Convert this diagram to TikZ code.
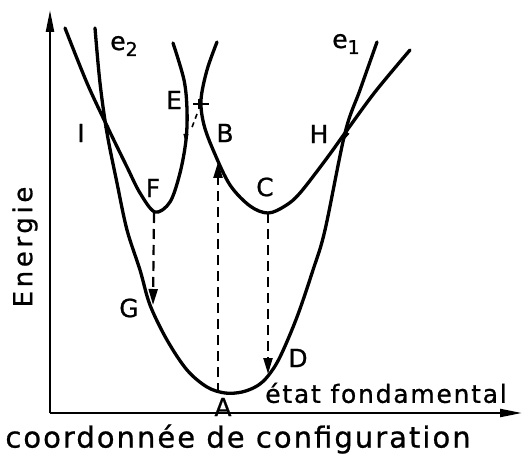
\documentclass[tikz,border=0pt]{standalone}
\usepackage{fontspec}
\setmainfont[FakeBold=0.8]{DejaVu Sans}
\newfontfamily\spaced[LetterSpace=7,FakeBold=0.8]{DejaVu Sans}
\newfontfamily\wide[LetterSpace=14,FakeBold=0.8]{DejaVu Sans}
\usetikzlibrary{arrows.meta}
\begin{document}
\begin{tikzpicture}[x=1pt,y=-1pt,
  curve/.style={line width=3.3pt, line cap=round, line join=round},
  axis/.style={line width=2.2pt, -{Triangle[width=8pt,length=22pt]}},
  trans/.style={line width=2.2pt, dash pattern=on 10pt off 6pt, -{Triangle[width=9pt,length=16pt]}},
  tick/.style={line width=1.6pt},
  small/.style={line width=1pt, -{Triangle[width=5pt,length=8pt]}},
  lbl/.style={font=\fontsize{25}{25}\selectfont, inner sep=0pt},
  big/.style={font=\spaced\fontsize{29}{29}\selectfont, inner sep=0pt},
]
\useasboundingbox (0,0) rectangle (524,462);
% axes
\coordinate (O) at (50,413);
\coordinate (Ytop) at (50,10);
\coordinate (Xend) at (522,413);
\draw[axis] (O) -- (Ytop);
\draw[axis] (O) -- (Xend);
% ground state
\draw[curve] plot[smooth, tension=0.55] coordinates {(95,28) (100,83) (107,133) (117,183) (127,230) (140,270) (150,305) (167,340) (187,370) (207,387) (225,393) (242,392) (257,386) (268,376) (280,357) (297,317) (313,270) (325,230) (345,133) (360,90) (377,42)};
% e2
\draw[curve] plot[smooth, tension=0.55] coordinates {(65,28) (87,83) (108,128) (127,167) (140,193) (155,212) (170,202) (180,173) (186,140) (187,110) (184,80) (173,43)};
% e1
\draw[curve] plot[smooth, tension=0.55] coordinates {(217,42) (207,70) (201,100) (204,125) (214,152) (230,185) (250,206) (268,213) (285,206) (300,193) (327,158) (345,133) (375,92) (410,50)};
% transition points
\coordinate (pA) at (218,393);
\coordinate (pB) at (218,162);
\coordinate (pC) at (268,213);
\coordinate (pD) at (268,374);
\coordinate (pF) at (154,213);
\coordinate (pG) at (153,305);
\draw[trans] (pA) -- (pB);
\draw[trans] (pC) -- (pD);
\draw[trans] (pF) -- (pG);
% crossing E
\coordinate (Ea) at (193,104);
\coordinate (Eb) at (209,104);
\coordinate (Ec) at (199,99);
\coordinate (Ed) at (199,109);
\coordinate (Ee) at (197,114);
\coordinate (Ef) at (191,130);
\draw[tick] (Ea) -- (Eb);
\draw[tick] (Ec) -- (Ed);
\draw[tick, dash pattern=on 5pt off 4pt] (Ee) -- (Ef);
% small arrows on curves
\coordinate (s1a) at (186.3,128);
\coordinate (s1b) at (185.5,142);
\coordinate (s2a) at (104,118);
\coordinate (s2b) at (109,134);
\coordinate (s3a) at (349,128);
\coordinate (s3b) at (344,140);
\draw[small] (s1a) -- (s1b);
\draw[small] (s2a) -- (s2b);
\draw[small] (s3a) -- (s3b);
% labels
\node[lbl] (le2) at (124,46) {e\raisebox{-6pt}{\fontsize{19}{19}\selectfont 2}};
\node[lbl] (le1) at (346,44) {e\raisebox{-6pt}{\fontsize{19}{19}\selectfont 1}};
\node[lbl] (lE) at (174,100) {E};
\node[lbl] (lI) at (81,133) {I};
\node[lbl] (lB) at (225,133) {B};
\node[lbl] (lH) at (319,134) {H};
\node[lbl] (lF) at (153,188) {F};
\node[lbl] (lC) at (265,187) {C};
\node[lbl] (lG) at (129,308) {G};
\node[lbl] (lD) at (298,358) {D};
\node[lbl] (lA) at (223,407) {A};
\node[lbl, font=\spaced\fontsize{25}{25}\selectfont] (lfond) at (386,393) {état fondamental};
\node[big] (lx) at (238,439) {coordonnée de configuration};
\node[lbl, font=\wide\fontsize{26}{26}\selectfont, rotate=90] (ly) at (25,247) {Energie};
\end{tikzpicture}
\end{document}
